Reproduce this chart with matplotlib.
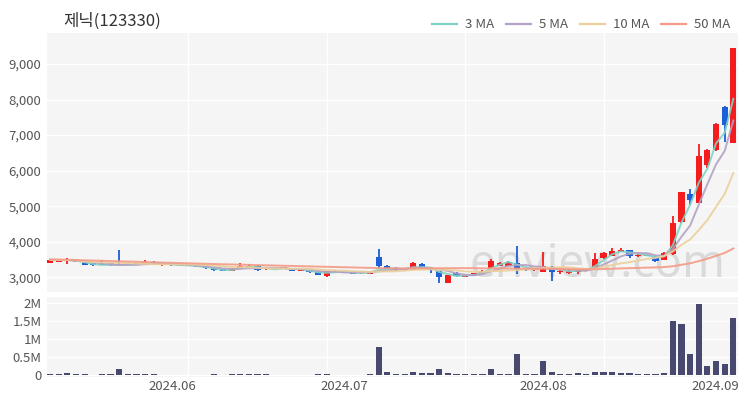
import matplotlib
matplotlib.use('Agg')
import matplotlib.pyplot as plt
import matplotlib.transforms as mtransforms
from matplotlib.lines import Line2D
import numpy as np
import pandas as pd

plt.rcParams['font.family'] = ['Noto Sans CJK KR', 'DejaVu Sans']

# ---------------- data ----------------
title = '제닉(123330)'
holidays = ['2024-05-15', '2024-06-06', '2024-08-15']
dates = pd.bdate_range('2024-05-10', '2024-09-03', freq='C', holidays=holidays)

opens = [3400, 3440, 3450, 3500, 3410, 3400, 3410, 3390, 3380, 3360,
         3400, 3380, 3440, 3340, 3350, 3370, 3340, 3340, 3310, 3270,
         3230, 3180, 3260, 3280, 3330, 3220, 3250, 3230, 3260, 3190,
         3180, 3160, 3030, 3150, 3180, 3160, 3110, 3100, 3560, 3330,
         3250, 3200, 3210, 3380, 3250, 3170, 2850, 3130, 3020, 3060,
         3110, 3250, 3330, 3330, 3410, 3230, 3200, 3150, 3300, 3140,
         3130, 3160, 3220, 3250, 3530, 3600, 3720, 3760, 3600, 3600,
         3580, 3490, 3650, 4550, 5330, 5100, 6150, 6570, 7800, 6790]
closes = [3490, 3480, 3490, 3430, 3350, 3340, 3360, 3340, 3340, 3380,
          3350, 3430, 3380, 3370, 3340, 3330, 3330, 3290, 3250, 3200,
          3180, 3240, 3330, 3320, 3200, 3250, 3230, 3280, 3190, 3220,
          3140, 3070, 3170, 3190, 3120, 3100, 3140, 3170, 3320, 3230,
          3210, 3240, 3390, 3230, 3200, 3020, 3060, 3030, 3060, 3110,
          3190, 3460, 3410, 3420, 3240, 3200, 3260, 3330, 3140, 3190,
          3170, 3190, 3230, 3520, 3690, 3740, 3760, 3610, 3630, 3620,
          3470, 3690, 4540, 5390, 5180, 6400, 6590, 7320, 7280, 9460]
highs = [3510, 3490, 3540, 3510, 3420, 3410, 3480, 3400, 3760, 3390,
         3410, 3480, 3450, 3380, 3360, 3390, 3350, 3350, 3320, 3280,
         3240, 3250, 3400, 3380, 3340, 3260, 3260, 3290, 3270, 3230,
         3190, 3170, 3180, 3200, 3190, 3170, 3150, 3180, 3790, 3340,
         3280, 3250, 3420, 3390, 3260, 3180, 3070, 3140, 3070, 3120,
         3200, 3510, 3420, 3470, 3880, 3240, 3270, 3720, 3310, 3220,
         3200, 3230, 3240, 3670, 3700, 3830, 3830, 3770, 3650, 3640,
         3600, 3700, 4720, 5400, 5480, 6760, 6600, 7330, 7820, 9460]
lows = [3390, 3430, 3370, 3420, 3340, 3330, 3350, 3330, 3330, 3350,
        3340, 3370, 3370, 3330, 3330, 3310, 3320, 3280, 3240, 3190,
        3170, 3170, 3250, 3270, 3190, 3210, 3220, 3220, 3180, 3180,
        3130, 3060, 3000, 3140, 3110, 3090, 3100, 3090, 3270, 3220,
        3180, 3190, 3200, 3220, 3130, 2850, 2840, 3020, 3010, 3050,
        3100, 3240, 3320, 3320, 3080, 3190, 3190, 3140, 2900, 3100,
        3090, 3080, 3210, 3240, 3520, 3590, 3700, 3540, 3580, 3590,
        3440, 3480, 3640, 4540, 5030, 5090, 6080, 6560, 6800, 6780]
volumes = [0.03, 0.02, 0.06, 0.02, 0.02, 0.01, 0.02, 0.02, 0.16, 0.03,
           0.02, 0.03, 0.02, 0.01, 0.01, 0.01, 0.01, 0.01, 0.01, 0.02,
           0.01, 0.02, 0.04, 0.02, 0.04, 0.02, 0.01, 0.01, 0.01, 0.01,
           0.01, 0.02, 0.02, 0.01, 0.01, 0.01, 0.01, 0.02, 0.78, 0.09,
           0.02, 0.02, 0.07, 0.05, 0.05, 0.18, 0.05, 0.03, 0.02, 0.02,
           0.02, 0.16, 0.03, 0.02, 0.58, 0.02, 0.02, 0.39, 0.09, 0.02,
           0.02, 0.06, 0.02, 0.08, 0.08, 0.09, 0.06, 0.05, 0.04, 0.03,
           0.02, 0.05, 1.50, 1.40, 0.58, 1.96, 0.25, 0.39, 0.30, 1.58]  # millions
# 50-day MA for days whose window starts before the visible range
ma50_early = [3506, 3500, 3493, 3486, 3479, 3472, 3465, 3458, 3451, 3444,
              3437, 3430, 3423, 3416, 3409, 3402, 3395, 3388, 3381, 3374,
              3368, 3362, 3356, 3350, 3344, 3338, 3332, 3326, 3320, 3314,
              3308, 3302, 3296, 3290, 3284, 3278, 3272, 3266, 3260, 3255,
              3252, 3252, 3253, 3254, 3255, 3256, 3257, 3258, 3258]

ma_periods = [3, 5, 10, 50]
ma_labels = ['3 MA', '5 MA', '10 MA', '50 MA']
ma_colors = ['#7fd3c6', '#b3a2c4', '#ecd09c', '#f49a86']
vol_ticks = [0, 0.5, 1, 1.5, 2]
vol_ticklabels = ['0', '0.5M', '1M', '1.5M', '2M']
price_ticks = [3000, 4000, 5000, 6000, 7000, 8000, 9000]

# ---------------- figure ----------------
W, H = 750, 400
fig = plt.figure(figsize=(7.5, 4), dpi=100)
ax = fig.add_axes([47 / W, 1 - 292 / H, 691 / W, 259 / H])
axv = fig.add_axes([47 / W, 1 - 377 / H, 691 / W, 80 / H], sharex=ax)

for a in (ax, axv):
    a.set_facecolor('#f5f5f5')
    for s in a.spines.values():
        s.set_visible(False)
    a.tick_params(length=0, labelsize=9.5, colors='#555555', pad=4)
    a.set_axisbelow(True)

x = np.arange(len(dates))
o = np.array(opens, float)
c = np.array(closes, float)
h = np.array(highs, float)
l = np.array(lows, float)
up = c >= o
col = np.where(up, '#f41c1c', '#1c5fd8')

# vertical grid lines
for g in [16, 32, 48, 64]:
    ax.axvline(g, color='white', lw=1.0, zorder=0.5)
    axv.axvline(g, color='white', lw=1.0, zorder=0.5)
ax.grid(axis='y', color='white', lw=1.0)
axv.grid(axis='y', color='white', lw=1.0)

# watermark
ax.text(0.797, 0.105, 'enview.com', transform=ax.transAxes, fontsize=33,
        color='#dadada', ha='center', va='center', zorder=1, clip_on=True,
        family=['Noto Sans', 'DejaVu Sans'])

# candles
ax.vlines(x, l, h, colors=col, lw=1.3, zorder=3)
ax.bar(x, np.maximum(np.abs(c - o), 14), bottom=np.minimum(o, c),
       width=0.72, color=col, zorder=3)

# moving averages
cs = pd.Series(c)
for p, lab, mc in zip(ma_periods, ma_labels, ma_colors):
    if p == 50:
        ma = cs.rolling(50).mean().to_numpy()
        ma[:len(ma50_early)] = ma50_early
    else:
        ma = cs.rolling(p, min_periods=1).mean().to_numpy()
    ax.plot(x, ma, color=mc, lw=1.4, zorder=4, alpha=0.9)

ax.set_ylim(2587, 9872)
ax.set_yticks(price_ticks)
ax.set_yticklabels([f'{v:,}' for v in price_ticks])
ax.tick_params(labelbottom=False)
ax.set_xlim(-0.35, 79.54)

# volume
axv.bar(x, volumes, width=0.72, color='#474a6e', zorder=3)
axv.set_ylim(-0.055, 2.158)
axv.set_yticks(vol_ticks)
axv.set_yticklabels(vol_ticklabels)

months = pd.Series(dates.month)
tick_idx = [i for i in range(1, len(dates)) if months[i] != months[i - 1]]
axv.set_xticks(tick_idx)
axv.set_xticklabels([dates[i].strftime('%Y.%m') for i in tick_idx])
axv.tick_params(axis='x', pad=2)
# labels nudged as in the reference (first one slightly left, last one kept inside the plot)
shifts = {0: -7, len(tick_idx) - 1: -9}
for k, lab in enumerate(axv.get_xticklabels()):
    if k in shifts:
        lab.set_transform(lab.get_transform() +
                          mtransforms.ScaledTranslation(shifts[k] / 100, 0, fig.dpi_scale_trans))

# title and legend
fig.text(63 / W, 1 - 21 / H, title, fontsize=12, color='#333333', va='center', ha='left')
handles = [Line2D([0], [0], color=mc, lw=1.6) for mc in ma_colors]
fig.legend(handles, ma_labels, loc='center right', bbox_to_anchor=(742 / W, 1 - 25 / H),
           ncol=4, frameon=False, fontsize=9.5, handlelength=1.9, handletextpad=0.6,
           columnspacing=0.9, labelcolor='#555555')

fig.savefig('out.png', dpi=100, facecolor='white')
